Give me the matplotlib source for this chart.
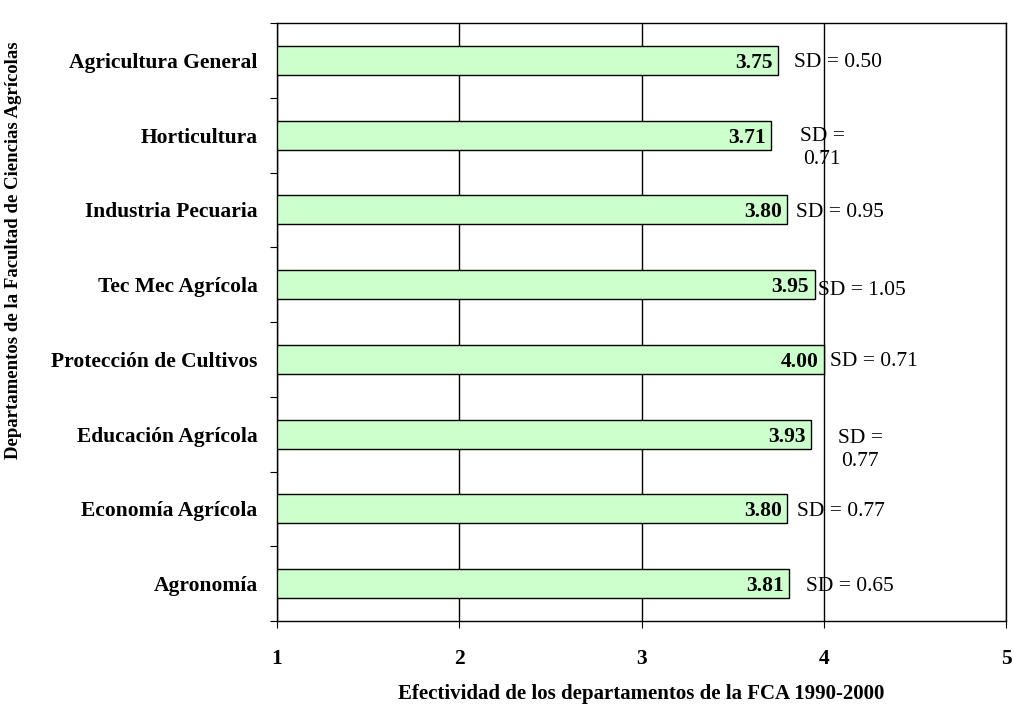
import matplotlib.pyplot as plt

plt.rcParams['font.family'] = ['Liberation Serif', 'DejaVu Serif']

# data, bottom to top as drawn
departments = ['Agronomía', 'Economía Agrícola', 'Educación Agrícola',
               'Protección de Cultivos', 'Tec Mec Agrícola', 'Industria Pecuaria',
               'Horticultura', 'Agricultura General']
means = [3.81, 3.80, 3.93, 4.00, 3.95, 3.80, 3.71, 3.75]
sd_labels = ['SD = 0.65', 'SD = 0.77', 'SD =\n0.77', 'SD = 0.71',
             'SD = 1.05', 'SD = 0.95', 'SD =\n0.71', 'SD = 0.50']

# where the SD labels sit (pixels right of bar end, pixels up)
sd_dx = [17, 10, 27, 6, 3, 9, 29, 16]
sd_dy = [0, 0, -11, 0, -3, 0, -8, 0]

fs = 15.5

fig = plt.figure(figsize=(10.14, 7.07), dpi=100)
ax = fig.add_axes([277/1014, 1 - 621/707, 729/1014, 598/707])

y = list(range(len(departments)))
ax.barh(y, [m - 1 for m in means], left=1, height=0.39,
        color='#ccffcc', edgecolor='black', linewidth=1, zorder=3)

for i, m in enumerate(means):
    ax.annotate('%.2f' % m, (m, i), xytext=(-4, 0), textcoords='offset points',
                ha='right', va='center_baseline', fontsize=fs, fontweight='bold', zorder=4)
    ax.annotate(sd_labels[i], (m, i), xytext=(sd_dx[i] * 0.72, sd_dy[i] * 0.72),
                textcoords='offset points', ha='left', va='center_baseline',
                fontsize=fs, multialignment='center', linespacing=1.3, zorder=4)

ax.set_xlim(1, 5)
ax.set_ylim(-0.5, len(departments) - 0.5)
ax.set_xticks([1, 2, 3, 4, 5])
ax.set_xticklabels(['1', '2', '3', '4', '5'], fontsize=fs, fontweight='bold')
ax.set_yticks([i - 0.5 for i in range(len(departments) + 1)])
ax.set_yticklabels([])
ax.set_yticks(y, minor=True)
ax.set_yticklabels(departments, minor=True, fontsize=fs, fontweight='bold')
ax.tick_params(axis='y', which='minor', length=0, pad=14)
ax.tick_params(axis='y', which='major', length=5, direction='out')
ax.tick_params(axis='x', length=5, direction='out', pad=15)
ax.grid(axis='x', color='black', linewidth=1, zorder=0)
for s in ax.spines.values():
    s.set_linewidth(1)

ax.set_xlabel('Efectividad de los departamentos de la FCA 1990-2000',
              fontsize=15, fontweight='bold', labelpad=11)
fig.text(14/1014, 1 - 250/707, 'Departamentos de la Facultad de Ciencias Agrícolas',
         rotation=90, ha='center', va='center', fontsize=13.5, fontweight='bold')

fig.savefig('out.png', dpi=100)
